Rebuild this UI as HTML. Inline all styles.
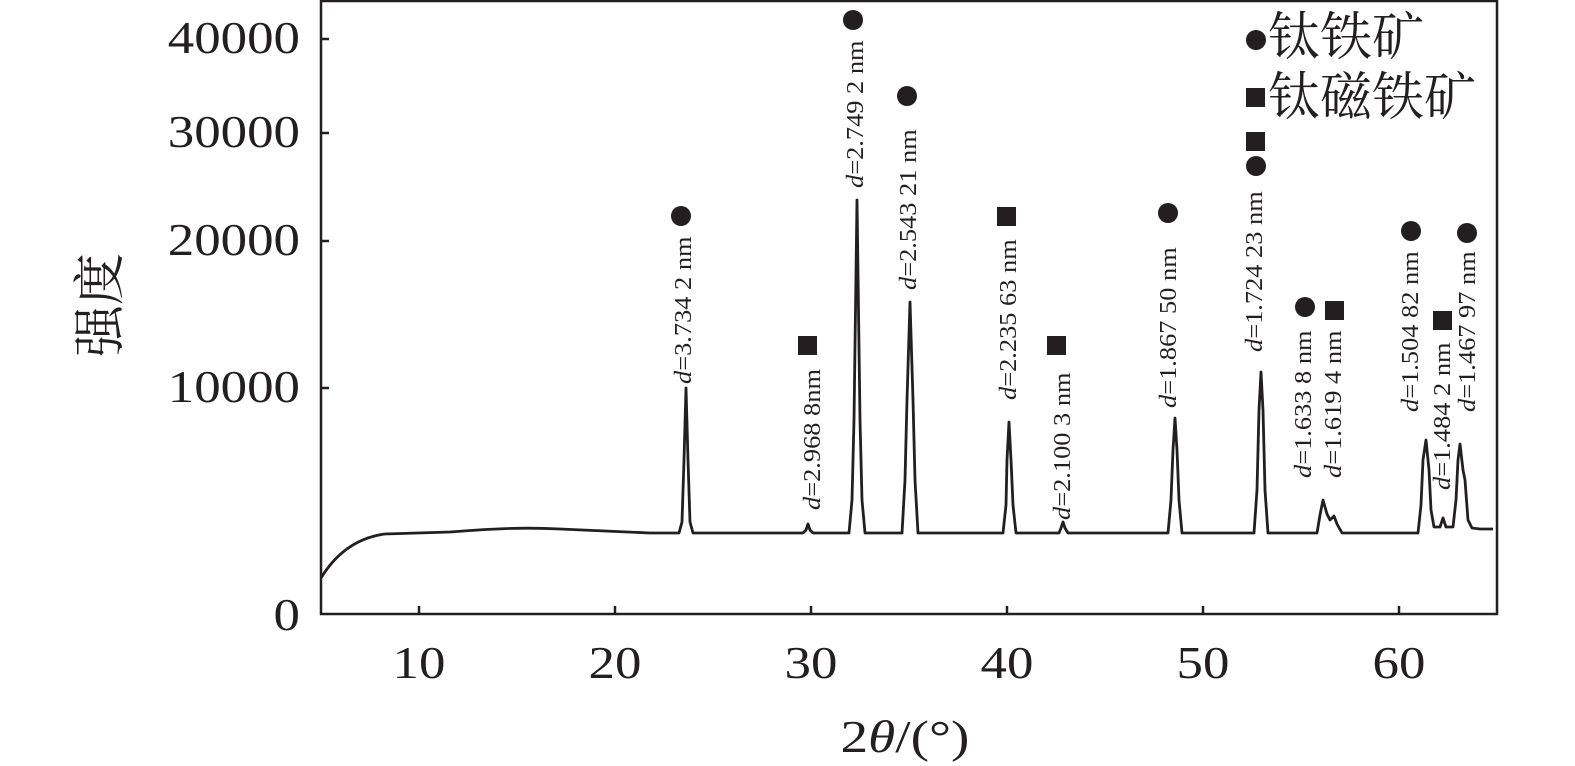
<!DOCTYPE html>
<html><head><meta charset="utf-8"><style>
html,body{margin:0;padding:0;background:#fff}
svg{display:block}
text{font-family:"Liberation Serif","Noto Serif CJK SC",serif;fill:#231f20}
</style></head><body>
<svg width="1575" height="766" viewBox="0 0 1575 766">
<g stroke="#231f20" stroke-width="2.5" fill="none">
<path d="M321,0 V614 H1497 V0"/>
<path d="M321,1 H1497"/>
<path d="M419,614 v-8 M615,614 v-8 M811,614 v-8 M1007,614 v-8 M1203,614 v-8 M1399,614 v-8"/>
<path d="M321,39 h8 M321,133 h8 M321,241 h8 M321,388 h8"/>
</g>
<path fill="none" stroke="#231f20" stroke-width="2.8" stroke-linejoin="round" d="
M321,578 C335,555 355,538 385,534 L450,532 C490,529 520,527 560,529 L650,533 L679,533
L682,522 L684,460 L686,388 L688,460 L690,522 L693,533 L803,533 L806,530 L808,524 L810,530 L813,533
L849,533 L852,500 L854,420 L857,200 L860,420 L862,500 L865,533
L902,533 L905,480 L907,400 L910,302 L913,400 L915,480 L918,533
L1003,533 L1006,505 L1007,460 L1009,422 L1011,460 L1013,505 L1016,533
L1059,533 L1061,528 L1063,522 L1065,528 L1068,533
L1168,533 L1171,500 L1173,450 L1175,418 L1177,450 L1179,500 L1182,533
L1254,533 L1257,490 L1259,410 L1261,372 L1263,410 L1265,490 L1268,533
L1317,533 L1320,515 L1323,500 L1327,514 L1330,520 L1334,516 L1337,524 L1342,533
L1418,533 L1421,505 L1423,460 L1426,440 L1429,470 L1431,510 L1434,527 L1440,527 L1443,518 L1446,527 L1453,527
L1456,500 L1458,460 L1460,444 L1463,470 L1465,480 L1468,520 L1472,528 L1480,529 L1493,529"/>
<g font-size="46">
<text transform="translate(300,53) scale(1.15,1)" text-anchor="end">40000</text>
<text transform="translate(300,147) scale(1.15,1)" text-anchor="end">30000</text>
<text transform="translate(300,255) scale(1.15,1)" text-anchor="end">20000</text>
<text transform="translate(300,402) scale(1.15,1)" text-anchor="end">10000</text>
<text transform="translate(300,630) scale(1.15,1)" text-anchor="end">0</text>
<text transform="translate(419,678) scale(1.15,1)" text-anchor="middle">10</text>
<text transform="translate(615,678) scale(1.15,1)" text-anchor="middle">20</text>
<text transform="translate(811,678) scale(1.15,1)" text-anchor="middle">30</text>
<text transform="translate(1007,678) scale(1.15,1)" text-anchor="middle">40</text>
<text transform="translate(1203,678) scale(1.15,1)" text-anchor="middle">50</text>
<text transform="translate(1399,678) scale(1.15,1)" text-anchor="middle">60</text>
<text transform="translate(905,752) scale(1.2,1)" text-anchor="middle">2<tspan font-style="italic">θ</tspan>/(°)</text>
</g>
<g font-size="52">
<text transform="translate(118,305) rotate(-90)" text-anchor="middle">强度</text>
<text x="1268" y="55">钛铁矿</text>
<text x="1268" y="115">钛磁铁矿</text>
</g>
<g font-size="24">
<text transform="translate(691,384) rotate(-90) scale(1.1,1)"><tspan font-style="italic">d</tspan>=3.734 2 nm</text>
<text transform="translate(820,510) rotate(-90) scale(1.1,1)"><tspan font-style="italic">d</tspan>=2.968 8nm</text>
<text transform="translate(863,188) rotate(-90) scale(1.1,1)"><tspan font-style="italic">d</tspan>=2.749 2 nm</text>
<text transform="translate(916,290) rotate(-90) scale(1.1,1)"><tspan font-style="italic">d</tspan>=2.543 21 nm</text>
<text transform="translate(1016,400) rotate(-90) scale(1.1,1)"><tspan font-style="italic">d</tspan>=2.235 63 nm</text>
<text transform="translate(1070,520) rotate(-90) scale(1.1,1)"><tspan font-style="italic">d</tspan>=2.100 3 nm</text>
<text transform="translate(1176,408) rotate(-90) scale(1.1,1)"><tspan font-style="italic">d</tspan>=1.867 50 nm</text>
<text transform="translate(1262,352) rotate(-90) scale(1.1,1)"><tspan font-style="italic">d</tspan>=1.724 23 nm</text>
<text transform="translate(1311,478) rotate(-90) scale(1.1,1)"><tspan font-style="italic">d</tspan>=1.633 8 nm</text>
<text transform="translate(1341,478) rotate(-90) scale(1.1,1)"><tspan font-style="italic">d</tspan>=1.619 4 nm</text>
<text transform="translate(1418,412) rotate(-90) scale(1.1,1)"><tspan font-style="italic">d</tspan>=1.504 82 nm</text>
<text transform="translate(1450,490) rotate(-90) scale(1.1,1)"><tspan font-style="italic">d</tspan>=1.484 2 nm</text>
<text transform="translate(1475,412) rotate(-90) scale(1.1,1)"><tspan font-style="italic">d</tspan>=1.467 97 nm</text>
</g>
<g fill="#231f20">
<circle cx="681" cy="216" r="10"/>
<circle cx="853" cy="20" r="10"/>
<circle cx="907" cy="96" r="10"/>
<circle cx="1168" cy="213" r="10"/>
<circle cx="1256" cy="166" r="10"/>
<circle cx="1305" cy="307" r="10"/>
<circle cx="1411" cy="231" r="10"/>
<circle cx="1467" cy="233" r="10"/>
<circle cx="1256" cy="40" r="10"/>
<rect x="798" y="336" width="19" height="19"/>
<rect x="997" y="207" width="19" height="19"/>
<rect x="1047" y="336" width="19" height="19"/>
<rect x="1246" y="132" width="19" height="19"/>
<rect x="1325" y="301" width="19" height="19"/>
<rect x="1433" y="311" width="19" height="19"/>
<rect x="1246" y="88" width="19" height="19"/>
</g>
</svg>
</body></html>
